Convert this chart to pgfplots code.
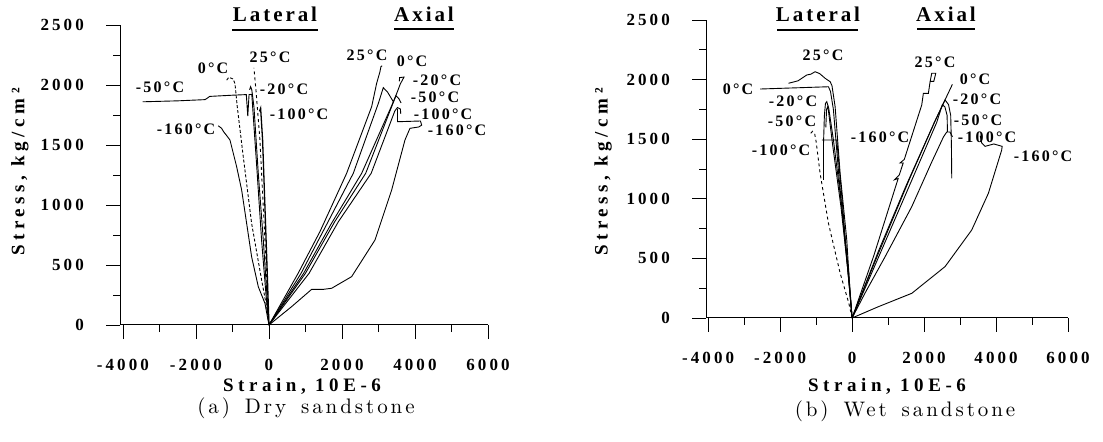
\documentclass[border=0pt]{standalone}
\usepackage{fontspec}
\usepackage{pgfplots}
\pgfplotsset{compat=1.18}
\newfontfamily\TickFam[LetterSpace=18]{Liberation Serif}
\newfontfamily\LabFam[LetterSpace=14]{Liberation Serif}
\newfontfamily\AxFam[LetterSpace=24]{Liberation Serif}
\newfontfamily\TitFam[LetterSpace=14]{Liberation Serif}
\newfontfamily\CapFam{lmroman10-regular}[Extension=.otf, LetterSpace=14, WordSpace=1.5]
\newcommand{\TickFont}{\fontsize{17bp}{20bp}\TickFam\bfseries}
\newcommand{\LabFont}{\fontsize{16bp}{19bp}\LabFam\bfseries}
\newcommand{\AxFont}{\fontsize{19bp}{22bp}\AxFam\bfseries}
\newcommand{\TitFont}{\fontsize{21bp}{24bp}\TitFam\bfseries}
\newcommand{\CapFont}{\fontsize{21bp}{24bp}\CapFam}
\pgfplotsset{myax/.style={
  scale only axis, axis x line=bottom, axis y line=left,
  axis line style={-, line width=1bp},
  xmax=6000, ymin=0, ymax=2500,
  xtick={-4000,-2000,...,6000}, xticklabels={-4000,-2000,0,2000,4000,6000},
  minor xtick={-3000,-1000,1000,3000,5000},
  ytick={0,500,...,2500}, yticklabels={0,500,1000,1500,2000,2500},
  minor ytick={250,750,...,2250},
  tick align=outside, major tick length=14bp, minor tick length=7bp,
  every tick/.style={black, line width=0.8bp},
  xticklabel style={font=\TickFont, inner sep=0pt, anchor=base, yshift=-31bp},
  yticklabel style={font=\TickFont, inner sep=0pt, anchor=east, xshift=-22bp},
  cycle list={{black}},
  every axis plot/.append style={black, line width=0.9bp, no markers},
  clip=false,
}}
\begin{document}
\begin{tikzpicture}
\path[use as bounding box] (0,0) rectangle (1103bp,442bp);
% ---------------- (a) Dry sandstone ----------------
\begin{axis}[myax, at={(120bp,117bp)}, anchor=south west, width=368bp, height=300bp, xmin=-4080]
% lateral
\addplot[dashed] coordinates {(0,0) (-110,708) (-247,1542) (-356,1958) (-411,2142)};
\addplot[densely dashed] coordinates {(0,0) (-64,153) (-201,375) (-475,847) (-704,1403) (-868,1819) (-930,2010) (-980,2050) (-1100,2064) (-1160,2040)};
\addplot coordinates {(-3460,1860) (-2500,1868) (-1750,1878) (-1620,1905) (-1000,1915) (-620,1920) (-580,1740) (-545,1920) (-470,1922) (-420,1700) (-330,1300) (-200,700) (-80,250) (0,0)};
\addplot coordinates {(0,0) (-46,208) (-155,708) (-292,1264) (-411,1819) (-470,1960) (-502,1986) (-530,1960)};
\addplot[line width=1.3bp] coordinates {(0,0) (-46,430) (-110,986) (-174,1542) (-228,1806) (-260,1780)};
\addplot coordinates {(0,0) (-110,181) (-292,319) (-475,569) (-611,847) (-748,1125) (-885,1319) (-1068,1542) (-1150,1575) (-1240,1610) (-1300,1640) (-1389,1660)};
% axial
\addplot coordinates {(0,0) (800,431) (1400,780) (2128,1264) (2813,1819) (2950,2014) (3040,2110) (3068,2153) (3100,2160)};
\addplot coordinates {(0,0) (880,431) (1550,820) (2310,1264) (3000,1850) (3132,1978) (3250,1940) (3406,1861)};
\addplot coordinates {(0,0) (950,431) (1700,840) (2539,1264) (3350,1819) (3500,1930) (3600,2010) (3700,2066) (3580,2062) (3570,2030)};
\addplot coordinates {(0,0) (1000,431) (1800,860) (2650,1264) (3400,1850) (3480,1910) (3560,1885) (3620,1850)};
\addplot coordinates {(0,0) (1100,431) (1900,860) (2800,1264) (3450,1785) (3520,1812) (3600,1800) (3610,1760)};
\addplot coordinates {(0,0) (621,153) (1169,297) (1488,297) (1717,306) (2265,403) (2904,708) (3361,1125) (3726,1542) (3863,1639) (4100,1650) (4183,1665) (4150,1700) (3520,1694) (3520,1800)};
\end{axis}
% ---------------- (b) Wet sandstone ----------------
\begin{axis}[myax, at={(706bp,124bp)}, anchor=south west, width=362bp, height=298bp, xmin=-4060]
% lateral
\addplot coordinates {(0,0) (-56,210) (-148,654) (-333,1214) (-472,1773) (-560,1950) (-611,1983) (-750,2011) (-900,2050) (-1028,2066) (-1150,2045) (-1259,2039) (-1500,1990) (-1769,1969)};
\addplot coordinates {(0,0) (-70,250) (-200,650) (-370,1200) (-520,1750) (-600,1900) (-657,1940) (-2556,1921)};
\addplot coordinates {(0,0) (-93,378) (-287,934) (-519,1493) (-650,1760) (-704,1815) (-740,1800) (-770,1700) (-796,1450) (-796,1158)};
\addplot coordinates {(0,0) (-110,378) (-310,934) (-540,1450) (-650,1720) (-676,1773) (-710,1750) (-730,1600)};
\addplot[dashed] coordinates {(-1150,1550) (-1100,1566) (-1040,1545) (-1000,1480) (-889,1214) (-657,794) (-333,377) (-93,126) (0,0)};
\addplot coordinates {(0,0) (-120,400) (-260,930) (-426,1493) (-843,1493)};
% axial
\addplot coordinates {(0,0) (600,520) (1280,1170) (1180,1160) (1310,1200) (1420,1300) (1330,1300) (1450,1330) (1935,1787) (1981,1885) (2120,1885) (2167,1982) (2213,2053) (2325,2053) (2270,1985) (2180,1985)};
\addplot coordinates {(0,0) (731,560) (1500,1110) (2300,1650) (2787,1960)};
\addplot coordinates {(0,0) (700,520) (1600,1170) (2300,1650) (2583,1829) (2680,1790) (2740,1700) (2760,1450) (2769,1172)};
\addplot coordinates {(0,0) (720,500) (1650,1150) (2350,1640) (2509,1790) (2580,1770) (2640,1700) (2650,1560)};
\addplot coordinates {(0,0) (361,210) (917,514) (1658,934) (2200,1300) (2540,1520) (2630,1560) (2720,1560) (2790,1520)};
\addplot coordinates {(0,0) (731,95) (1658,207) (2583,431) (3324,738) (3787,1046) (4157,1409) (4170,1440) (3940,1460) (3694,1440) (3600,1470) (3560,1530)};
\end{axis}
% ---------------- text ----------------
\begin{scope}[every node/.style={inner sep=0pt}]
% titles
\node[font=\TitFont, anchor=base] at (275bp,420bp) {Lateral};
\node[font=\TitFont, anchor=base] at (424bp,420bp) {Axial};
\node[font=\TitFont, anchor=base] at (818bp,420bp) {Lateral};
\node[font=\TitFont, anchor=base] at (946bp,420bp) {Axial};
\draw[line width=2.5bp] (232bp,412bp) -- (318bp,412bp);
\draw[line width=2.5bp] (394bp,413bp) -- (454bp,413bp);
\draw[line width=2.5bp] (777bp,412bp) -- (858bp,412bp);
\draw[line width=2.5bp] (917bp,413bp) -- (975bp,413bp);
% left labels
\begin{scope}[every node/.append style={font=\LabFont}]
\node at (270bp,385bp) {25°C};
\node at (213bp,374bp) {0°C};
\node at (160bp,355bp) {-50°C};
\node at (284bp,353bp) {-20°C};
\node at (299bp,328bp) {-100°C};
\node at (186bp,313bp) {-160°C};
\node at (367bp,387bp) {25°C};
\node at (412bp,381bp) {0°C};
\node at (437bp,362bp) {-20°C};
\node at (435bp,345bp) {-50°C};
\node at (443bp,328bp) {-100°C};
\node at (457bp,312bp) {-160°C};
% right labels
\node at (823bp,387bp) {25°C};
\node at (738bp,353bp) {0°C};
\node at (793bp,341bp) {-20°C};
\node at (792bp,321bp) {-50°C};
\node at (781bp,292bp) {-100°C};
\node at (880bp,305bp) {-160°C};
\node at (935bp,380bp) {25°C};
\node at (975bp,363bp) {0°C};
\node at (977bp,343bp) {-20°C};
\node at (978bp,322bp) {-50°C};
\node at (987bp,305bp) {-100°C};
\node at (1043bp,286bp) {-160°C};
\end{scope}
% axis labels
\node[font=\AxFont, rotate=90] at (20bp,270bp) {Stress, kg/cm²};
\node[font=\AxFont, rotate=90] at (603bp,270bp) {Stress, kg/cm²};
\node[font=\AxFont, anchor=base] at (302bp,50bp) {Strain, 10E-6};
\node[font=\AxFont, anchor=base] at (887bp,50bp) {Strain, 10E-6};
% captions
\node[font=\CapFont, anchor=base] at (306bp,29bp) {(a) Dry sandstone};
\node[font=\CapFont, anchor=base] at (905bp,26bp) {(b) Wet sandstone};
\end{scope}
\end{tikzpicture}
\end{document}
